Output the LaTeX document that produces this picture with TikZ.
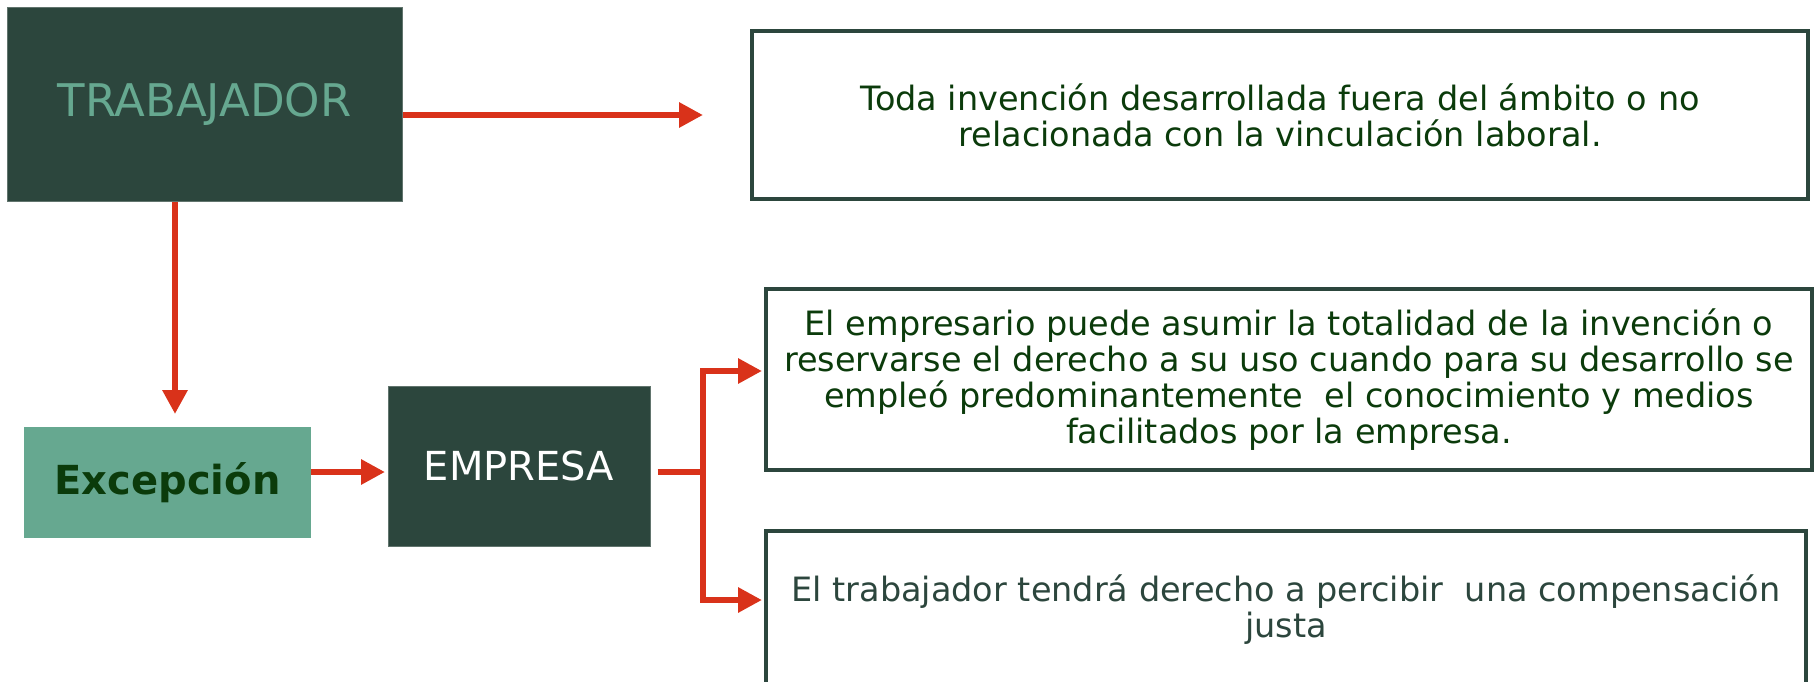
\documentclass[tikz,border=0pt]{standalone}
\usepackage{fontspec}
\setmainfont{DejaVu Sans}
\usetikzlibrary{arrows.meta}

\definecolor{darkbox}{HTML}{2C463D}
\definecolor{lightbox}{HTML}{66A890}
\definecolor{leaftext}{HTML}{0B3B0B}
\definecolor{arrowred}{HTML}{D9321A}

\begin{document}
\begin{tikzpicture}[x=1pt,y=-1pt,
	dark/.style={fill=darkbox,draw=darkbox!75!white,line width=1pt,inner sep=0pt},
	leaf/.style={draw=darkbox,line width=4pt,fill=white,align=center,inner sep=0pt,
		text=leaftext,font=\fontsize{33.5}{36}\selectfont},
	link/.style={draw=arrowred,line width=6pt,-{Triangle[length=24pt,width=24pt]}}]
\useasboundingbox (0,0) rectangle (1814,681);

% left column
\node (trab) [dark,minimum width=395pt,minimum height=194pt,text=lightbox,
	font=\fontsize{45}{50}\selectfont] at (204.5,104) {TRABAJADOR};
\node (exc) [fill=lightbox,inner sep=0pt,minimum width=287pt,minimum height=111pt,
	text=leaftext,font=\fontsize{40}{44}\bfseries] at (167.5,482.5) {Excepción};
\node (emp) [dark,minimum width=262pt,minimum height=160pt,text=white,
	font=\fontsize{40}{44}\selectfont] at (519,466) {EMPRESA};

% right column
\node (box1) [leaf,minimum width=1056pt,minimum height=168pt] at (1280,115)
	{Toda invención desarrollada fuera del ámbito o no\\
	relacionada con la vinculación laboral.};
\node (box2) [leaf,minimum width=1046pt,minimum height=181pt] at (1289,379.5)
	{El empresario puede asumir la totalidad de la invención o\\
	reservarse el derecho a su uso cuando para su desarrollo se\\
	empleó predominantemente\ \ el conocimiento y medios\\
	facilitados por la empresa.};
\node (box3) [leaf,minimum width=1040pt,minimum height=159pt,text=darkbox] at (1286,610)
	{El trabajador tendrá derecho a percibir\ \ una compensación\\
	justa};

% connectors
\coordinate (t1) at (703,115);
\coordinate (d1) at (175,414);
\coordinate (e1) at (385,472);
\coordinate (fork) at (703,472);
\coordinate (b1) at (762,371);
\coordinate (b2) at (762,600);

\draw[link] (trab.east |- t1) -- (t1);
\draw[link] (trab.south -| d1) -- (d1);
\draw[link] (exc.east |- e1) -- (e1);
\draw[draw=arrowred,line width=6pt] ([xshift=7pt]emp.east |- fork) -- (fork);
\draw[link] (fork) |- (b1);
\draw[link] (fork) |- (b2);
\end{tikzpicture}
\end{document}
